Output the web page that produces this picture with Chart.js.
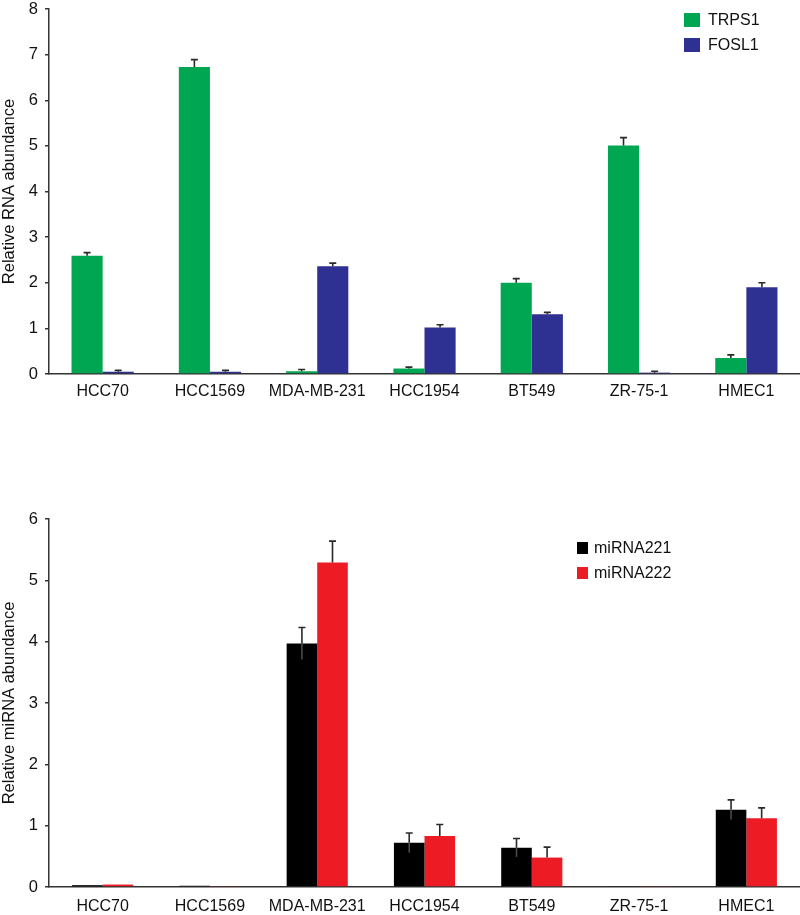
<!DOCTYPE html>
<html>
<head>
<meta charset="utf-8">
<script src="https://cdn.jsdelivr.net/npm/chart.js@4/dist/chart.umd.min.js"></script>
<style>
  html, body { margin: 0; padding: 0; background: #ffffff; }
  #wrap { position: relative; width: 800px; height: 915px; overflow: hidden; font-family: "Liberation Sans", Arial, Helvetica, sans-serif; }
  canvas { position: absolute; left: 0; }
  .legend { position: absolute; font-size: 16px; color: #111; line-height: 1; }
  .legend .row { position: absolute; white-space: nowrap; }
  .legend .sw { position: absolute; }
  .legend .tx { position: absolute; }
</style>
</head>
<body>
<div id="wrap">
  <canvas id="top" width="800" height="420" style="top:0px"></canvas>
  <canvas id="bottom" width="800" height="475" style="top:440px"></canvas>
  <div id="legTop" class="legend"></div>
  <div id="legBottom" class="legend"></div>
</div>
<script>
// ---------- data ----------
const categories = ['HCC70', 'HCC1569', 'MDA-MB-231', 'HCC1954', 'BT549', 'ZR-75-1', 'HMEC1'];

const trps1    = [2.59, 6.73, 0.06, 0.12, 2.00, 5.01, 0.35];
const trps1Err = [0.07, 0.16, 0.04, 0.03, 0.09, 0.17, 0.07];
const fosl1    = [0.05, 0.05, 2.36, 1.02, 1.31, 0.03, 1.90];
const fosl1Err = [0.03, 0.03, 0.07, 0.06, 0.04, 0.03, 0.10];

const mir221    = [0.03, 0.02, 3.97, 0.72, 0.64, 0.01, 1.26];
const mir221Err = [0.00, 0.00, 0.26, 0.16, 0.15, 0.00, 0.16];
const mir222    = [0.04, 0.01, 5.29, 0.83, 0.48, 0.01, 1.12];
const mir222Err = [0.00, 0.00, 0.35, 0.19, 0.17, 0.00, 0.17];

const topTicks = [0, 1, 2, 3, 4, 5, 6, 7, 8];
const bottomTicks = [0, 1, 2, 3, 4, 5, 6];

// ---------- error bar plugin ----------
const errorBars = {
  id: 'errorBars',
  afterDatasetsDraw(chart) {
    const ctx = chart.ctx;
    const yScale = chart.scales.y;
    chart.data.datasets.forEach((ds, i) => {
      if (!ds.errors) return;
      const meta = chart.getDatasetMeta(i);
      meta.data.forEach((bar, j) => {
        const err = ds.errors[j];
        if (!err) return;
        const v = ds.data[j];
        const x = bar.x;
        const yTop = yScale.getPixelForValue(v + err);
        const yVal = yScale.getPixelForValue(v);
        ctx.save();
        ctx.strokeStyle = '#2a2a2a';
        ctx.lineWidth = 1.6;
        ctx.beginPath();
        ctx.moveTo(x, yVal);
        ctx.lineTo(x, yTop);
        ctx.moveTo(x - 3.5, yTop);
        ctx.lineTo(x + 3.5, yTop);
        ctx.stroke();
        if (ds.lowerErrColor) {
          const yLow = yScale.getPixelForValue(Math.max(v - err, 0));
          ctx.strokeStyle = ds.lowerErrColor;
          ctx.beginPath();
          ctx.moveTo(x, yVal);
          ctx.lineTo(x, yLow);
          ctx.stroke();
        }
        ctx.restore();
      });
    });
  }
};

const FONT = '"Liberation Sans", Arial, Helvetica, sans-serif';

function makeOptions(ticks, title, padTop, xHeight, xPad) {
  return {
    responsive: false,
    animation: false,
    devicePixelRatio: 1,
    layout: { padding: { top: padTop, right: 0, bottom: 0, left: 0 } },
    plugins: { legend: { display: false }, tooltip: { enabled: false } },
    scales: {
      x: {
        grid: { display: false },
        border: { display: true, color: '#333', width: 1.5 },
        ticks: { color: '#111', font: { family: FONT, size: 16 }, padding: xPad, maxRotation: 0, autoSkip: false },
        afterFit(scale) { scale.height = xHeight; }
      },
      y: {
        min: ticks[0],
        max: ticks[ticks.length - 1],
        afterBuildTicks(scale) { scale.ticks = ticks.map(v => ({ value: v })); },
        grid: { display: true, drawOnChartArea: false, drawTicks: true, tickLength: 4, color: '#333', lineWidth: 1.5 },
        border: { display: true, color: '#333', width: 1.5 },
        ticks: { color: '#111', font: { family: FONT, size: 16.5 }, padding: 7 },
        title: { display: true, text: title, color: '#111', font: { family: FONT, size: 16.5 }, padding: 0 },
        afterFit(scale) { scale.width = 49; scale.paddingTop = 0; scale.paddingBottom = 0; }
      }
    }
  };
}

const topChart = new Chart(document.getElementById('top'), {
  type: 'bar',
  data: {
    labels: categories,
    datasets: [
      { label: 'TRPS1', data: trps1, errors: trps1Err, backgroundColor: '#00a651', barPercentage: 1, categoryPercentage: 0.58 },
      { label: 'FOSL1', data: fosl1, errors: fosl1Err, backgroundColor: '#2e3192', barPercentage: 1, categoryPercentage: 0.58 }
    ]
  },
  options: makeOptions(topTicks, 'Relative RNA abundance', 9, 46, 0),
  plugins: [errorBars]
});

const bottomChart = new Chart(document.getElementById('bottom'), {
  type: 'bar',
  data: {
    labels: categories,
    datasets: [
      { label: 'miRNA221', data: mir221, errors: mir221Err, lowerErrColor: '#4a4a4a', backgroundColor: '#000000', barPercentage: 1, categoryPercentage: 0.57 },
      { label: 'miRNA222', data: mir222, errors: mir222Err, backgroundColor: '#ed1c24', barPercentage: 1, categoryPercentage: 0.57 }
    ]
  },
  options: makeOptions(bottomTicks, 'Relative miRNA abundance', 79, 28, 2),
  plugins: [errorBars]
});

// ---------- HTML legends built from the chart datasets ----------
function buildLegend(chart, el, left, top, sw, sh, textDx, rowGap) {
  el.style.left = left + 'px';
  el.style.top = top + 'px';
  chart.data.datasets.forEach((ds, i) => {
    const row = document.createElement('div');
    row.className = 'row';
    row.style.top = (i * rowGap) + 'px';
    const s = document.createElement('div');
    s.className = 'sw';
    s.style.width = sw + 'px';
    s.style.height = sh + 'px';
    s.style.left = '0px';
    s.style.top = (-sh / 2) + 'px';
    s.style.background = ds.backgroundColor;
    const t = document.createElement('div');
    t.className = 'tx';
    t.style.left = textDx + 'px';
    t.style.top = '-8px';
    t.textContent = ds.label;
    row.appendChild(s);
    row.appendChild(t);
    el.appendChild(row);
  });
}
buildLegend(topChart, document.getElementById('legTop'), 684, 20, 16, 14, 24, 25);
buildLegend(bottomChart, document.getElementById('legBottom'), 577, 547.5, 11, 12, 17, 25);
</script>
</body>
</html>
